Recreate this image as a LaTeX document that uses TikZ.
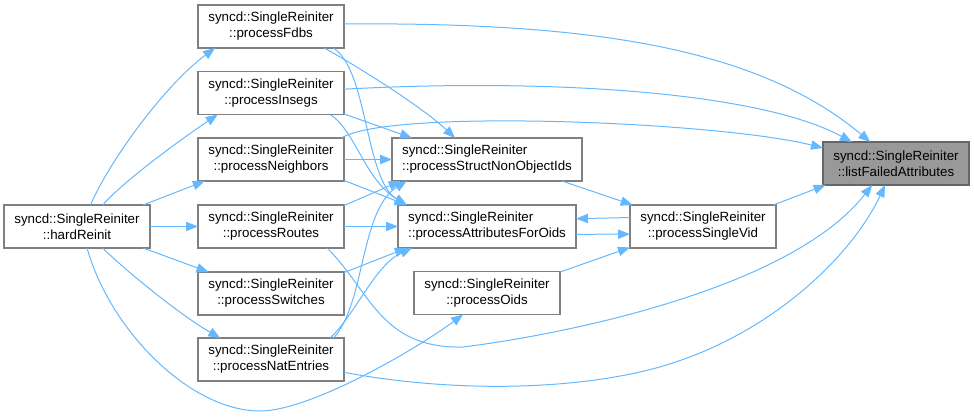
\documentclass[tikz,border=0pt]{standalone}
\usepackage{fontspec}
\setmainfont{Liberation Sans}
\usetikzlibrary{arrows.meta}
\definecolor{edgecol}{HTML}{63B8FF}
\definecolor{boxcol}{HTML}{808080}
\definecolor{hlfill}{HTML}{999999}
\definecolor{hldraw}{HTML}{666666}
\begin{document}
\begin{tikzpicture}[x=0.75pt,y=-0.75pt,
  fn/.style={draw=boxcol, line width=0.9pt, fill=white, minimum width=109.5pt,
    minimum height=32.25pt, inner sep=0pt, outer sep=0pt, align=center,
    font=\fontsize{10}{12}\selectfont},
  fnl/.style={fn, align=left},
  hl/.style={fn, fill=hlfill, draw=hldraw},
  edge/.style={draw=edgecol, line width=0.75pt, -{Triangle[length=9pt,width=7pt]}},
]
\useasboundingbox (0,0) rectangle (974,418);

\node[fn] (fdbs) at (271,26.5) {syncd::SingleReiniter\\::processFdbs};
\node[fn] (insegs) at (271,93) {syncd::SingleReiniter\\::processInsegs};
\node[fn] (neigh) at (271,159.5) {syncd::SingleReiniter\\::processNeighbors};
\node[fn] (routes) at (271,226.5) {syncd::SingleReiniter\\::processRoutes};
\node[fn] (switches) at (271,293.5) {syncd::SingleReiniter\\::processSwitches};
\node[fn] (nat) at (271,359.5) {syncd::SingleReiniter\\::processNatEntries};
\node[fn] (hard) at (77,226.5) {syncd::SingleReiniter\\::hardReinit};
\node[fnl, minimum width=142.5pt] (struct) at (487,159.5) {syncd::SingleReiniter\\::processStructNonObjectIds};
\node[fnl, minimum width=133.5pt] (attr) at (487,226.5) {syncd::SingleReiniter\\::processAttributesForOids};
\node[fn] (oids) at (487,293) {syncd::SingleReiniter\\::processOids};
\node[fn] (single) at (703,226.5) {syncd::SingleReiniter\\::processSingleVid};
\node[hl] (list) at (896,163.5) {syncd::SingleReiniter\\::listFailedAttributes};

% hardReinit callees
\draw[edge] (hard.58.8) .. controls (110,160) and (165,85) .. (fdbs.201);
\draw[edge] (hard.40.7) .. controls (125,180) and (180,140) .. (insegs.202);
\draw[edge] (hard.18.3) -- (neigh.198.8);
\draw[edge] (hard.east) -- (routes.west);
\draw[edge] (hard.-18.3) -- (switches.161.2);
\draw[edge] (hard.-40.7) .. controls (125,270) and (180,315) .. (nat.157.9);
\draw[edge] (hard.-65) .. controls (110,330) and (190,411) .. (260,411)
  .. controls (310,411) and (415,350) .. (oids.222);

% to listFailedAttributes
\draw[edge] (fdbs.2) .. controls (600,22) and (760,50) .. (list.140.4);
\draw[edge] (insegs.3.9) .. controls (550,78) and (760,92) .. (list.154);
\draw[edge] (neigh.17.5) .. controls (390,108) and (720,122) .. (list.168);
\draw[edge] (routes.-21) .. controls (370,290) and (380,349) .. (463,347)
  .. controls (560,335) and (790,290) .. (list.222);
\draw[edge] (nat.-10.5) .. controls (450,392) and (560,390) .. (640,372)
  .. controls (760,345) and (850,260) .. (list.243);
\draw[edge] (single.17.8) -- (list.197.3);

% to processStructNonObjectIds / processAttributesForOids
\draw[edge] (fdbs.-22) .. controls (350,62) and (420,105) .. (struct.146);
\draw[edge] (fdbs.-19.4) .. controls (368,70) and (365,180) .. (attr.165.6);
\draw[edge] (insegs.-16) -- (struct.164.4);
\draw[edge] (insegs.-20.7) .. controls (355,130) and (365,180) .. (attr.165.6);
\draw[edge] (neigh.east) -- (struct.west);
\draw[edge] (neigh.-16) -- (attr.165.6);
\draw[edge] (routes.16) -- (struct.194.7);
\draw[edge] (routes.east) -- (attr.west);
\draw[edge] (switches.16) -- (attr.195.6);
\draw[edge] (nat.19.1) .. controls (365,305) and (360,210) .. (struct.195.6);
\draw[edge] (nat.20) .. controls (355,315) and (375,265) .. (attr.196.2);

% to processSingleVid and back
\draw[edge] (struct.-16.4) -- (single.163);
\draw[edge] (attr.-5.5) -- (single.186.6);
\draw[edge] (single.173.4) -- (attr.5.5);
\draw[edge] (oids.16) -- (single.196);
\end{tikzpicture}
\end{document}
